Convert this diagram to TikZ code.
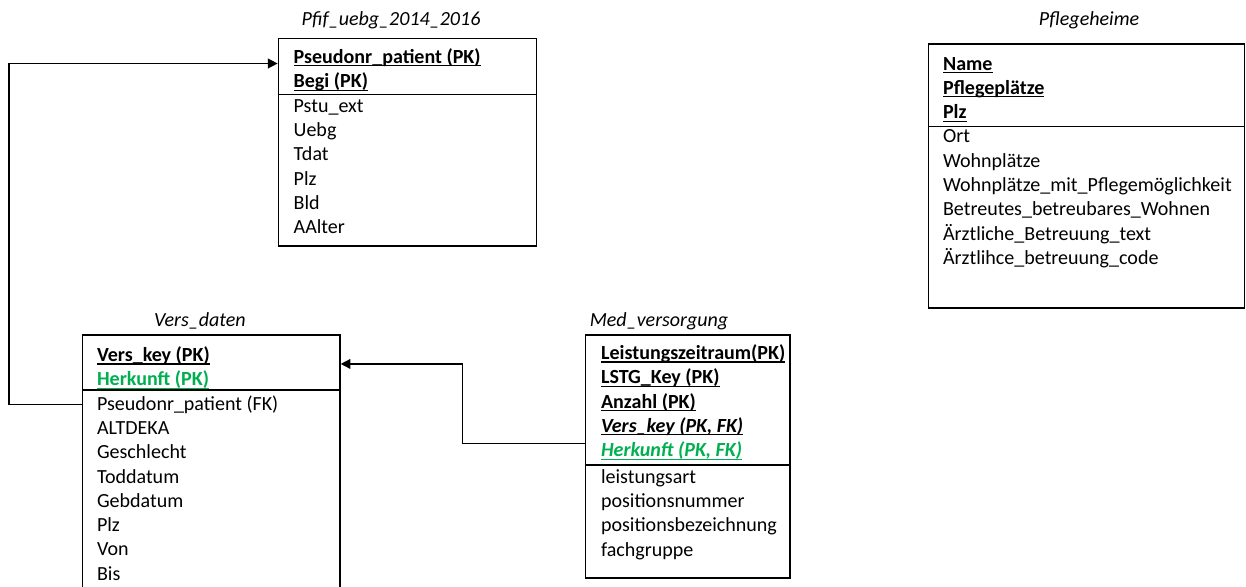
\documentclass[tikz,border=0pt]{standalone}
\usepackage{fontspec}
\setmainfont{Carlito}
\usetikzlibrary{arrows.meta,positioning,calc,fit}
\definecolor{keyGreen}{RGB}{0,176,80}
\newcommand{\pkline}[1]{\setbox0\hbox{#1}\rlap{\rule[-1.7pt]{\wd0}{0.6pt}}\box0}

\begin{document}
\begin{tikzpicture}[x=0.02cm, y=-0.02cm,
    tbl/.style={draw, line width=0.75pt, inner sep=0pt},
    row/.style={anchor=base west, inner sep=0pt, font=\fontsize{11.4}{13.9}\selectfont},
    tbltitle/.style={anchor=base, inner sep=0pt, font=\fontsize{11.4}{13.9}\selectfont\itshape},
    sepline/.style={line width=0.75pt},
    fk/.style={line width=0.8pt, -{Triangle[length=5.5pt,width=5.5pt]}}]
    \useasboundingbox (0,0) rectangle (1246,586);
    \clip (0,0) rectangle (1246,586);

    % Pfif_uebg_2014_2016
    \node[tbl, fit={(278.3,38.3) (536.7,246)}] (pfif) {};
    \node[tbltitle] (pfif-title) at (391,25) {Pfif\_uebg\_2014\_2016};
    \node[row] (pfif-pk) at (293.3,63.5) {\pkline{\bfseries Pseudonr\_patient (PK)}};
    \node[row] (pfif-begi) at (293.3,87.8) {\pkline{\bfseries Begi (PK)}};
    \draw[sepline] (pfif.west |- 0,94.7) -- (pfif.east |- 0,94.7);
    \foreach \txt [count=\i] in {Pstu\_ext, Uebg, Tdat, Plz, Bld, AAlter}
        \node[row] (pfif-\i) at (293.3,{112.1+(\i-1)*24.3}) {\txt};

    % Pflegeheime
    \node[tbl, fit={(928.5,44) (1244.5,308)}] (pfl) {};
    \node[tbltitle] (pfl-title) at (1089,25) {Pflegeheime};
    \foreach \txt [count=\i] in {Name, Pflegeplätze, Plz}
        \node[row] (pfl-pk\i) at (942.7,{70+(\i-1)*24.3}) {\pkline{\bfseries \txt}};
    \draw[sepline] (pfl.west |- 0,126.5) -- (pfl.east |- 0,126.5);
    \foreach \txt [count=\i] in {Ort, Wohnplätze, Wohnplätze\_mit\_Pflegemöglichkeit,
        Betreutes\_betreubares\_Wohnen, Ärztliche\_Betreuung\_text, Ärztlihce\_betreuung\_code}
        \node[row] (pfl-\i) at (942.7,{142.9+(\i-1)*24.3}) {\txt};

    % Vers_daten
    \node[tbl, fit={(82.7,335) (340,620)}] (vd) {};
    \node[tbltitle] (vd-title) at (200,326.7) {Vers\_daten};
    \node[row] (vd-key) at (96.7,361.5) {\pkline{\bfseries Vers\_key (PK)}};
    \node[row, text=keyGreen] (vd-hk) at (96.7,385.8) {\pkline{\bfseries Herkunft (PK)}};
    \draw[sepline] (vd.west |- 0,390) -- (vd.east |- 0,390);
    \foreach \txt [count=\i] in {Pseudonr\_patient (FK), ALTDEKA, Geschlecht, Toddatum,
        Gebdatum, Plz, Von, Bis}
        \node[row] (vd-\i) at (96.7,{410.1+(\i-1)*24.3}) {\txt};

    % Med_versorgung
    \node[tbl, fit={(585.7,335) (790,578)}] (med) {};
    \node[tbltitle] (med-title) at (659,326.7) {Med\_versorgung};
    \foreach \txt [count=\i] in {Leistungszeitraum(PK), LSTG\_Key (PK), Anzahl (PK)}
        \node[row] (med-pk\i) at (600.7,{359.5+(\i-1)*24.3}) {\pkline{\bfseries \txt}};
    \node[row] (med-vk) at (600.7,432.4) {\pkline{\bfseries\itshape Vers\_key (PK, FK)}};
    \node[row, text=keyGreen] (med-hk) at (600.7,456.7) {\pkline{\bfseries\itshape Herkunft (PK, FK)}};
    \draw[sepline] (med.west |- 0,465) -- (med.east |- 0,465);
    \foreach \txt [count=\i] in {leistungsart, positionsnummer, positionsbezeichnung, fachgruppe}
        \node[row] (med-\i) at (600.7,{483.1+(\i-1)*24.3}) {\txt};

    % connectors
    \coordinate (bendL) at (9,0);
    \coordinate (bendM) at (462.7,0);
    \coordinate (vd-in) at ($(vd-key.base)!0.1!(vd-hk.base)$);
    \coordinate (med-out) at ($(med-vk.base)!0.45!(med-hk.base)$);
    \draw[fk] (vd.west |- vd-1) -- (bendL |- vd-1) |- (pfif.west |- pfif-pk.base);
    \draw[fk] (med.west |- med-out) -- (bendM |- med-out) |- (vd.east |- vd-in);
\end{tikzpicture}
\end{document}
